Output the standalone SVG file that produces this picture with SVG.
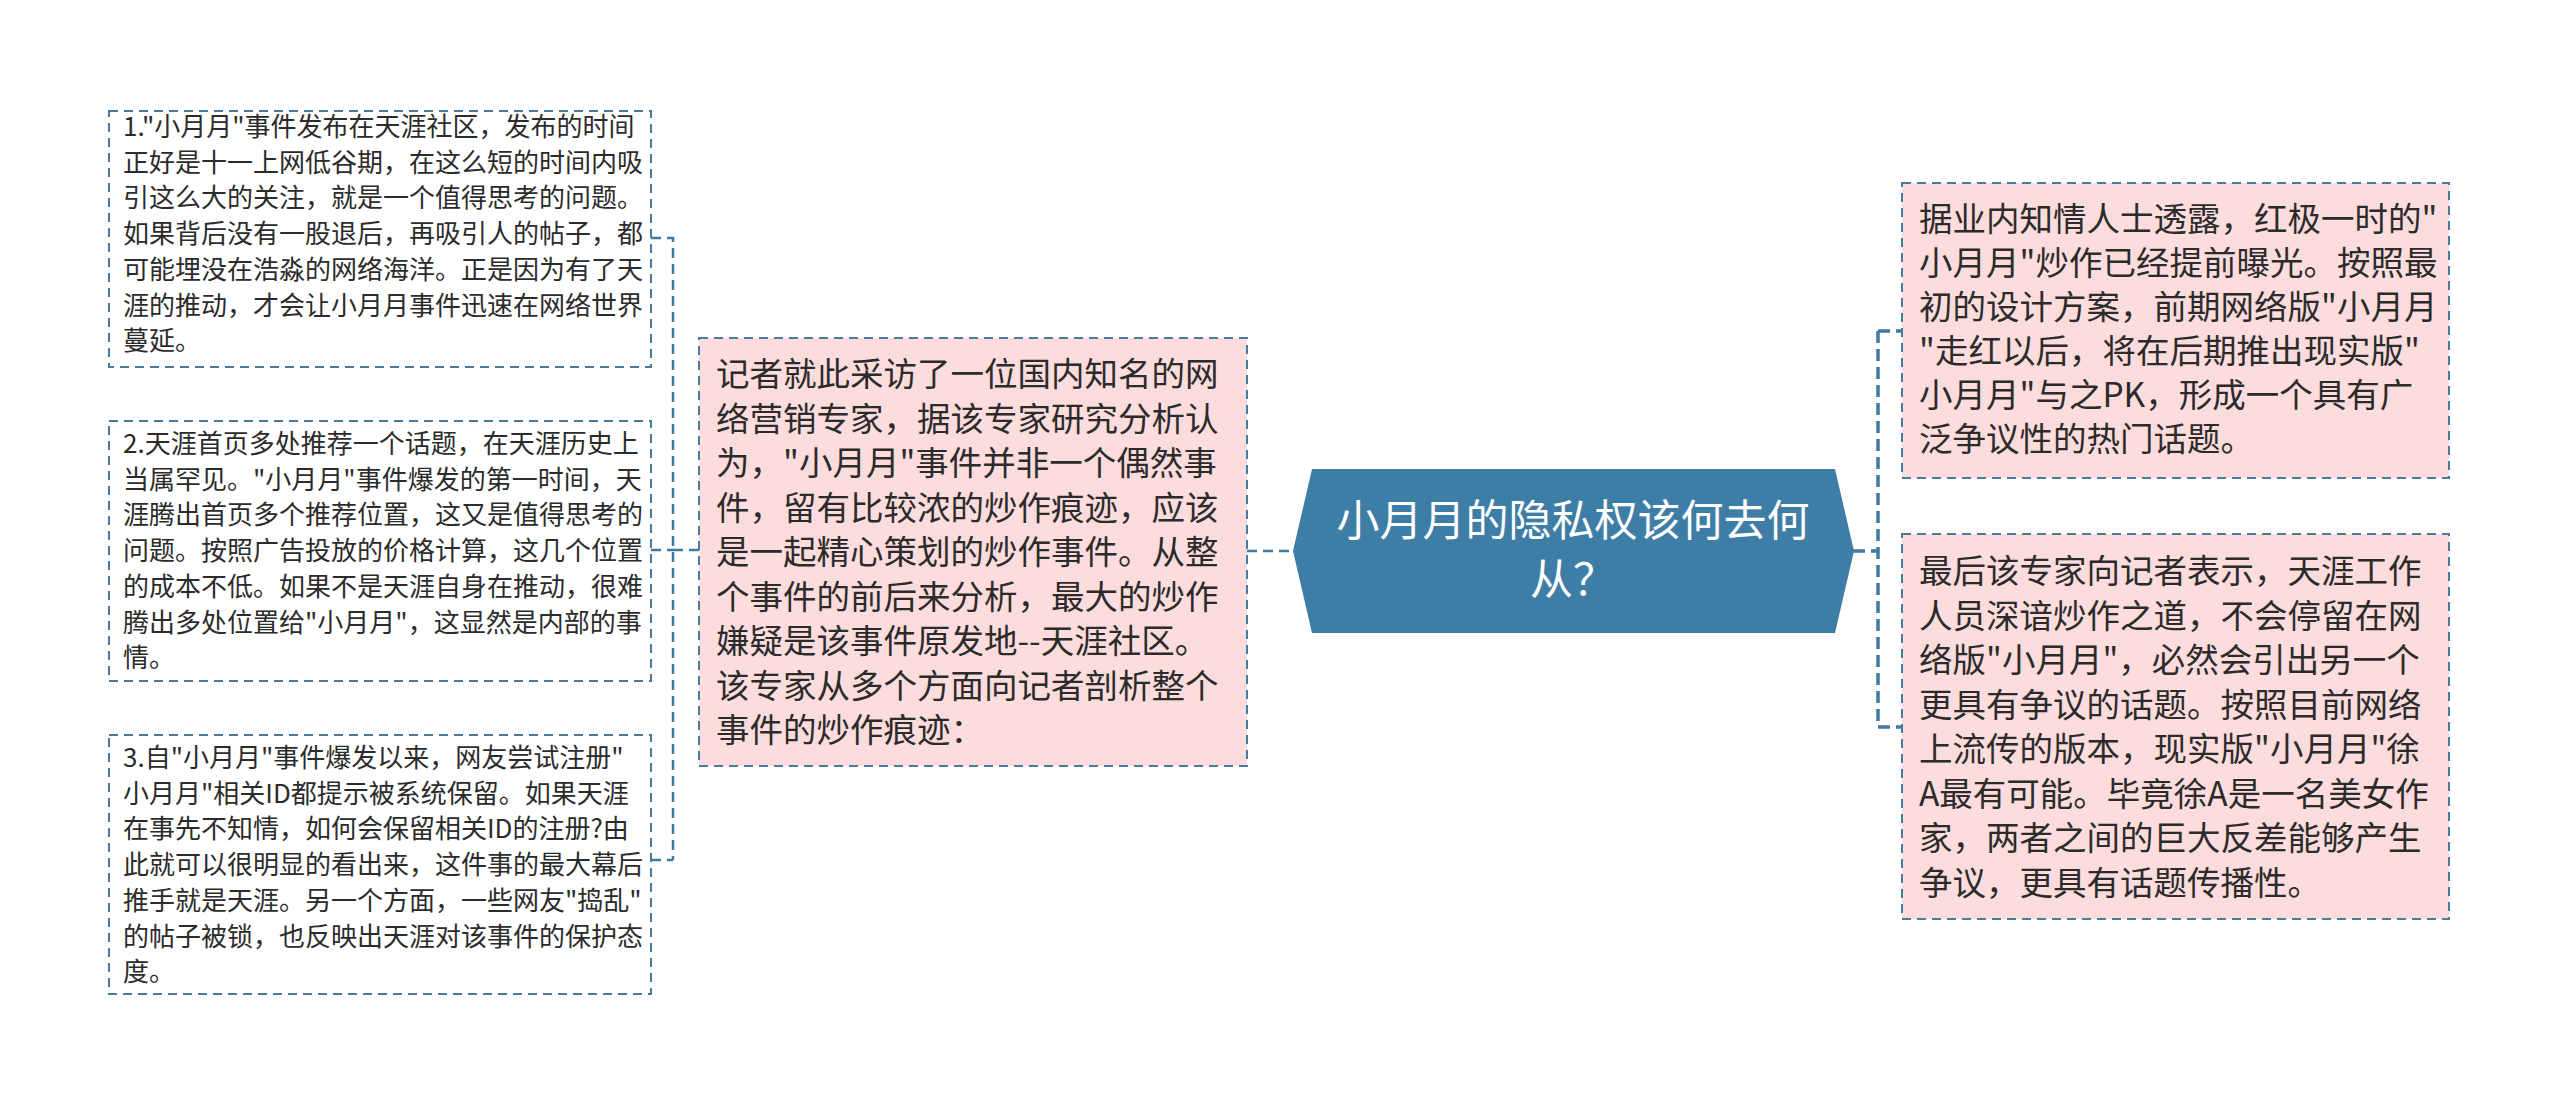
<svg xmlns="http://www.w3.org/2000/svg" width="2560" height="1103" viewBox="0 0 2560 1103">
<style>
.bg{fill:#ffffff}
.box{fill:#ffffff;stroke:#4a7aa0;stroke-width:2;stroke-dasharray:9 6}
.pbox{fill:#fcdcdc;stroke:#4a7aa0;stroke-width:2;stroke-dasharray:9 6}
.conn{fill:none;stroke:#3f7aa3;stroke-width:2.5;stroke-dasharray:10 6}
.connb{fill:none;stroke:#3f7aa3;stroke-width:3.5;stroke-dasharray:12 6}
.t{font-family:"Noto Sans CJK SC","Noto Sans",sans-serif;fill:#2b2b2b}
.s{font-size:26px}
.m{font-size:33.5px}
.c{font-family:"Noto Sans CJK SC","Noto Sans",sans-serif;font-size:43px;fill:#ffffff}
</style>
<rect class="bg" x="0" y="0" width="2560" height="1103"/>
<g id="connectors">
<path class="conn" d="M651 238 H673 V860 M673 550 H699 M651 550 H673 M651 860 H673"/>
<path class="conn" d="M1247 551 H1293"/>
<path class="connb" d="M1853 551 H1878 M1878 331 V727 M1878 331 H1902 M1878 727 H1902"/>
</g>
<g id="root">
<polygon points="1312,469 1835,469 1854,551 1835,633 1312,633 1293,551" fill="#3e7ea6"/>
<text class="c" text-anchor="middle"><tspan x="1573" y="536">小月月的隐私权该何去何</tspan><tspan x="1573" y="595">从？</tspan></text>
</g>
<g id="n-main">
<rect class="pbox" x="699" y="338" width="548" height="428"/>
<text class="t m"><tspan x="716" y="386">记者就此采访了一位国内知名的网</tspan><tspan x="716" y="430.5">络营销专家，据该专家研究分析认</tspan><tspan x="716" y="475">为，"小月月"事件并非一个偶然事</tspan><tspan x="716" y="519.5">件，留有比较浓的炒作痕迹，应该</tspan><tspan x="716" y="564">是一起精心策划的炒作事件。从整</tspan><tspan x="716" y="608.5">个事件的前后来分析，最大的炒作</tspan><tspan x="716" y="653">嫌疑是该事件原发地--天涯社区。</tspan><tspan x="716" y="697.5">该专家从多个方面向记者剖析整个</tspan><tspan x="716" y="742">事件的炒作痕迹：</tspan></text>
</g>
<g id="n-1">
<rect class="box" x="109" y="111" width="542" height="256"/>
<text class="t s"><tspan x="123" y="136">1."小月月"事件发布在天涯社区，发布的时间</tspan><tspan x="123" y="171.7">正好是十一上网低谷期，在这么短的时间内吸</tspan><tspan x="123" y="207.4">引这么大的关注，就是一个值得思考的问题。</tspan><tspan x="123" y="243.1">如果背后没有一股退后，再吸引人的帖子，都</tspan><tspan x="123" y="278.8">可能埋没在浩淼的网络海洋。正是因为有了天</tspan><tspan x="123" y="314.5">涯的推动，才会让小月月事件迅速在网络世界</tspan><tspan x="123" y="350.2">蔓延。</tspan></text>
</g>
<g id="n-2">
<rect class="box" x="109" y="421" width="542" height="260"/>
<text class="t s"><tspan x="123" y="453">2.天涯首页多处推荐一个话题，在天涯历史上</tspan><tspan x="123" y="488.7">当属罕见。"小月月"事件爆发的第一时间，天</tspan><tspan x="123" y="524.4">涯腾出首页多个推荐位置，这又是值得思考的</tspan><tspan x="123" y="560.1">问题。按照广告投放的价格计算，这几个位置</tspan><tspan x="123" y="595.8">的成本不低。如果不是天涯自身在推动，很难</tspan><tspan x="123" y="631.5">腾出多处位置给"小月月"，这显然是内部的事</tspan><tspan x="123" y="667.2">情。</tspan></text>
</g>
<g id="n-3">
<rect class="box" x="109" y="735" width="542" height="259"/>
<text class="t s"><tspan x="123" y="767">3.自"小月月"事件爆发以来，网友尝试注册"</tspan><tspan x="123" y="802.7">小月月"相关ID都提示被系统保留。如果天涯</tspan><tspan x="123" y="838.4">在事先不知情，如何会保留相关ID的注册?由</tspan><tspan x="123" y="874.1">此就可以很明显的看出来，这件事的最大幕后</tspan><tspan x="123" y="909.8">推手就是天涯。另一个方面，一些网友"捣乱"</tspan><tspan x="123" y="945.5">的帖子被锁，也反映出天涯对该事件的保护态</tspan><tspan x="123" y="981.2">度。</tspan></text>
</g>
<g id="n-r1">
<rect class="pbox" x="1902" y="183" width="547" height="295"/>
<text class="t m"><tspan x="1919" y="231">据业内知情人士透露，红极一时的"</tspan><tspan x="1919" y="275">小月月"炒作已经提前曝光。按照最</tspan><tspan x="1919" y="319">初的设计方案，前期网络版"小月月</tspan><tspan x="1919" y="363">"走红以后，将在后期推出现实版"</tspan><tspan x="1919" y="407">小月月"与之PK，形成一个具有广</tspan><tspan x="1919" y="451">泛争议性的热门话题。</tspan></text>
</g>
<g id="n-r2">
<rect class="pbox" x="1902" y="534" width="547" height="385"/>
<text class="t m"><tspan x="1919" y="583">最后该专家向记者表示，天涯工作</tspan><tspan x="1919" y="627.5">人员深谙炒作之道，不会停留在网</tspan><tspan x="1919" y="672">络版"小月月"，必然会引出另一个</tspan><tspan x="1919" y="716.5">更具有争议的话题。按照目前网络</tspan><tspan x="1919" y="761">上流传的版本，现实版"小月月"徐</tspan><tspan x="1919" y="805.5">A最有可能。毕竟徐A是一名美女作</tspan><tspan x="1919" y="850">家，两者之间的巨大反差能够产生</tspan><tspan x="1919" y="894.5">争议，更具有话题传播性。</tspan></text>
</g>
</svg>
